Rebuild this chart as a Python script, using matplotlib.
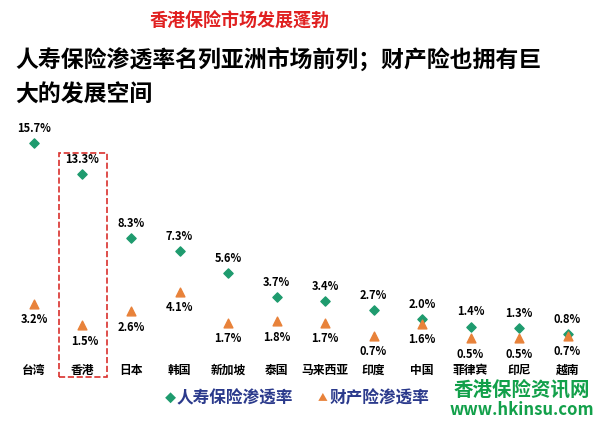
import matplotlib.pyplot as plt
from matplotlib.patches import Rectangle

plt.rcParams["font.family"] = "Noto Sans CJK SC"

regions = ["台湾", "香港", "日本", "韩国", "新加坡", "泰国", "马来西亚", "印度", "中国", "菲律宾", "印尼", "越南"]
life = [15.7, 13.3, 8.3, 7.3, 5.6, 3.7, 3.4, 2.7, 2.0, 1.4, 1.3, 0.8]
prop = [3.2, 1.5, 2.6, 4.1, 1.7, 1.8, 1.7, 0.7, 1.6, 0.5, 0.5, 0.7]

GREEN = "#1e9b6e"
ORANGE = "#e8823a"

fig = plt.figure(figsize=(6, 4.22), dpi=100)
ax = fig.add_axes([0, 0, 1, 1])
ax.set_xlim(-0.701, 11.67)
ax.set_ylim(-6.03, 26.84)
ax.axis("off")

xs = range(len(regions))
ax.scatter(xs, life, marker="D", s=22, color=GREEN, zorder=3)
ax.scatter(xs, prop, marker="^", s=40, color=ORANGE, zorder=3)
for x, v in zip(xs, life):
    ax.annotate(f"{v:.1f}%", (x, v), xytext=(0, 8), textcoords="offset points",
                ha="center", fontsize=8, fontweight="bold")
for x, v in zip(xs, prop):
    ax.annotate(f"{v:.1f}%", (x, v), xytext=(2 if x == 1 else 0, -14), textcoords="offset points",
                ha="center", fontsize=8, fontweight="bold")
for x, name in zip(xs, regions):
    ax.text(x, -2.0, name, ha="center", va="center", fontsize=8.5, fontweight="bold")

# dashed box around Hong Kong
ax.add_patch(Rectangle((0.52, -2.5), 0.99, 17.45, fill=False, ls="--", lw=1.2, ec="#d9302c"))

# legend
fig.text(0.275, 0.055, "◆", color=GREEN, fontsize=8, va="center")
fig.text(0.295, 0.055, "人寿保险渗透率", color="#2b3a8c", fontsize=12, fontweight="bold", va="center")
fig.text(0.53, 0.06, "▲", color=ORANGE, fontsize=7, va="center")
fig.text(0.55, 0.055, "财产险渗透率", color="#2b3a8c", fontsize=12, fontweight="bold", va="center")

# watermark
fig.text(0.87, 0.075, "香港保险资讯网", color="#12a04a", fontsize=14, fontweight="bold", ha="center", va="center")
fig.text(0.87, 0.028, "www.hkinsu.com", color="#12a04a", fontsize=12, fontweight="bold", ha="center", va="center")

# titles
fig.text(0.4, 0.95, "香港保险市场发展蓬勃", color="#e02020", fontsize=13, fontweight="bold", ha="center", va="center")
fig.text(0.025, 0.86, "人寿保险渗透率名列亚洲市场前列；财产险也拥有巨", fontsize=16.5, fontweight="bold", va="center")
fig.text(0.025, 0.775, "大的发展空间", fontsize=16.5, fontweight="bold", va="center")

fig.savefig("out.png", dpi=100)
